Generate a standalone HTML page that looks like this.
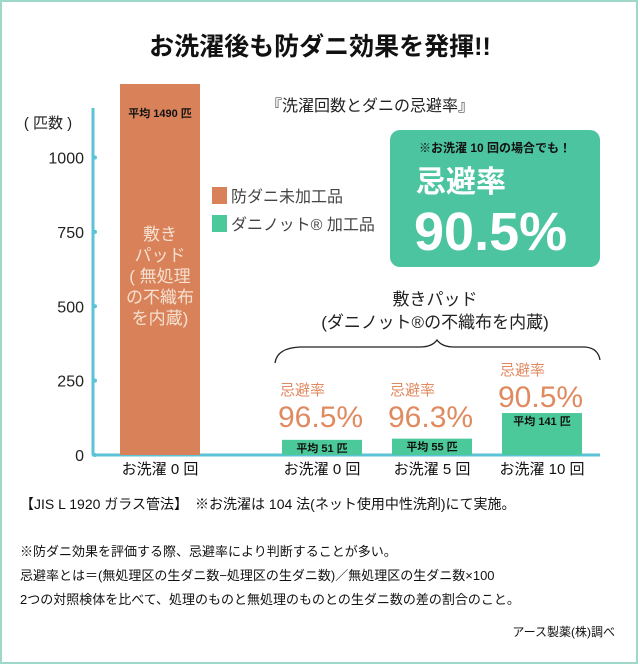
<!DOCTYPE html>
<html><head><meta charset="utf-8"><style>
body{margin:0;width:640px;height:665px;background:#fff;overflow:hidden}
svg{display:block;font-family:"Liberation Sans","Noto Sans CJK JP",sans-serif}
</style></head><body>
<svg width="640" height="665" viewBox="0 0 640 665">
<rect x="1" y="1" width="636" height="662" fill="#fff" stroke="#9fd8c8" stroke-width="2"/>
<text x="320" y="55" text-anchor="middle" font-size="25" font-weight="bold" fill="#111">お洗濯後も防ダニ効果を発揮!!</text>
<text x="370" y="111" text-anchor="middle" font-size="16" fill="#222">『洗濯回数とダニの忌避率』</text>
<text x="48" y="128" text-anchor="middle" font-size="15" fill="#222">( 匹数 )</text>
<g id="axes"></g>
<g id="bars"></g>
<rect x="212" y="187" width="15" height="17" fill="#d9825a"/>
<text x="231" y="202" font-size="16" fill="#444">防ダニ未加工品</text>
<rect x="212" y="215" width="15" height="17" fill="#4cc99a"/>
<text x="231" y="230" font-size="16" fill="#444">ダニノット® 加工品</text>
<rect x="390" y="130" width="210" height="137" rx="10" fill="#4cc4a0"/>
<text x="495" y="152" text-anchor="middle" font-size="12" font-weight="bold" fill="#111">※お洗濯 10 回の場合でも！</text>
<text x="416" y="192" font-size="30" font-weight="bold" fill="#fff">忌避率</text>
<text x="414" y="250" font-size="54" font-weight="bold" fill="#fff">90.5%</text>
<text x="160" y="240" text-anchor="middle" font-size="17" fill="#f5e0d0"><tspan x="160">敷き</tspan><tspan x="160" dy="21">パッド</tspan><tspan x="160" dy="21">( 無処理</tspan><tspan x="160" dy="21">の不織布</tspan><tspan x="160" dy="21">を内蔵)</tspan></text>
<text x="435" y="305" text-anchor="middle" font-size="17" fill="#222"><tspan x="435">敷きパッド</tspan><tspan x="435" dy="23">(ダニノット®の不織布を内蔵)</tspan></text>
<path d="M275 363 Q277 348 300 347 L420 347 Q432 347 437 340 Q442 347 454 347 L585 347 Q598 348 600 360" fill="none" stroke="#222" stroke-width="1.3"/>
<g id="rates"></g>
<text x="20" y="509" font-size="14" fill="#111">【JIS L 1920 ガラス管法】　※お洗濯は 104 法(ネット使用中性洗剤)にて実施。</text>
<text x="20" y="556" font-size="13" fill="#111">※防ダニ効果を評価する際、忌避率により判断することが多い。</text>
<text x="20" y="580" font-size="13" fill="#111">忌避率とは＝(無処理区の生ダニ数−処理区の生ダニ数)／無処理区の生ダニ数×100</text>
<text x="20" y="604" font-size="13" fill="#111">2つの対照検体を比べて、処理のものと無処理のものとの生ダニ数の差の割合のこと。</text>
<text x="615" y="636" text-anchor="end" font-size="12" fill="#111">アース製薬(株)調べ</text>
</svg>
<script>
const categories=["お洗濯 0 回","お洗濯 0 回","お洗濯 5 回","お洗濯 10 回"];
const values=[1490,51,55,141];
const seriesColors=["#d9825a","#4cc99a","#4cc99a","#4cc99a"];
const valueLabels=["平均 1490 匹","平均 51 匹","平均 55 匹","平均 141 匹"];
const rateLabels=["","96.5%","96.3%","90.5%"];
const ticks=[0,250,500,750,1000];
const NS="http://www.w3.org/2000/svg";
const y0=455,yTop=84;
function y(v){return y0-v*0.2975;}
function x(i){return [120,282,392,502][i];}
const bw=80;
function mk(tag,attrs,parent,text){const e=document.createElementNS(NS,tag);for(const k in attrs)e.setAttribute(k,attrs[k]);if(text!==undefined)e.textContent=text;parent.appendChild(e);return e;}
const ax=document.getElementById('axes');
let l=mk('line',{x1:93,y1:108,x2:93,y2:y0,stroke:"#5cc3d6","stroke-width":3},ax);


l=mk('line',{x1:92,y1:y0,x2:600,y2:y0,stroke:"#5cc3d6","stroke-width":3},ax);


ticks.forEach(t=>{
 const c=mk('circle',{cx:95,cy:y(t),r:2,fill:"#5cc3d6"},ax);
 
 
 const tx=mk('text',{x:84,y:y(t)+6,"text-anchor":"end","font-size":16,fill:"#222"},ax,String(t));
 
 
});
const bg=document.getElementById('bars');
values.forEach((v,i)=>{
 const top=Math.max(y(v),yTop);
 const r=mk('rect',{x:x(i),y:top,width:bw,height:y0-top,fill:seriesColors[i]},bg);
 
 
 const ly=i===0?top+33:top+12;
 const t=mk('text',{x:x(i)+bw/2,y:ly,"text-anchor":"middle","font-size":11,"font-weight":"bold",fill:"#111"},bg,valueLabels[i]);
 
 
 const c=mk('text',{x:x(i)+bw/2,y:474,"text-anchor":"middle","font-size":15,fill:"#111"},bg,categories[i]);
 
 
});
const rg=document.getElementById('rates');
rateLabels.forEach((r,i)=>{
 if(!r)return;
 const top=y(values[i]);
 const base=Math.min(top-6,427);
 const a=mk('text',{x:x(i)-2,y:base-32,"font-size":15,fill:"#e08a60"},rg,"忌避率");
 
 
 const b=mk('text',{x:x(i)-4,y:base,"font-size":30,fill:"#e08a60"},rg,r);
 
 
});
</script>
</body></html>
